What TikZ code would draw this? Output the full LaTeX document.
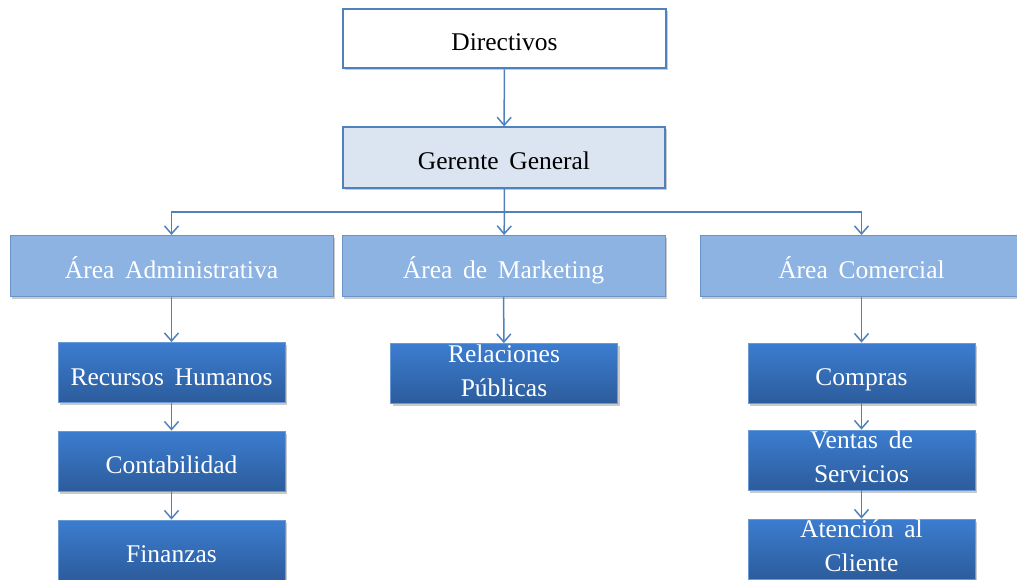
\documentclass[tikz,border=0pt]{standalone}
\usepackage{fontspec}
\setmainfont{Liberation Serif}
\usetikzlibrary{arrows.meta,shadows}
\definecolor{edgeblue}{HTML}{4F81BD}
\definecolor{paleblue}{HTML}{DBE5F1}
\definecolor{midblue}{HTML}{8DB3E2}
\definecolor{deeptop}{HTML}{3C7DD0}
\definecolor{deepbot}{HTML}{2C5C9C}
\definecolor{deepedge}{HTML}{6A9AD6}
% box lettering: large serif with a roomy word space and a fixed line pitch
\newcommand{\orgboxfont}{\fontsize{25.5}{34}\selectfont\spaceskip=0.42em plus 0.1em\relax\lineskiplimit=-100pt\relax}
% invisible struts that fix the height and depth of the lines in a box
\newcommand{\orgstrut}{\rule[-6pt]{0pt}{37pt}}
\newcommand{\orgtopstrut}{\rule[-6pt]{0pt}{26pt}}
\newcommand{\orgfirst}{\orgstrut}
\tikzset{
  first strut/.store in=\orgfirst,
  boxbase/.style={rectangle, inner sep=0pt, align=center,
    font=\orgboxfont, first strut=\orgstrut,
    execute at begin node={\orgfirst}, execute at end node={\orgstrut},
    drop shadow={shadow xshift=2pt, shadow yshift=-2.5pt, opacity=0.35, fill=black!60}},
  twoline/.style={first strut=\orgtopstrut},
  topbox/.style={boxbase, draw=edgeblue, line width=2.6pt, fill=white,
    minimum width=323pt, minimum height=59pt, drop shadow={opacity=0}},
  gerbox/.style={boxbase, draw=edgeblue, line width=1.3pt, fill=paleblue,
    minimum width=322pt, minimum height=61pt},
  areabox/.style={boxbase, draw=edgeblue!85, line width=1pt, fill=midblue,
    text=white, minimum width=323pt, minimum height=61pt},
  subbox/.style={boxbase, draw=deepedge, line width=0.8pt,
    top color=deeptop, bottom color=deepbot, text=white,
    minimum width=227pt, minimum height=60pt},
  link/.style={draw=edgeblue, line width=1.5pt},
  conn/.style={link, -{Straight Barb[length=8pt,width=14pt,line width=1.5pt]}}
}
\begin{document}
\begin{tikzpicture}[x=1pt,y=-1pt]
\useasboundingbox (0,0) rectangle (1017,580);

% top of the hierarchy
\node[topbox] (dir) at (504.5,38.5) {Directivos};
\node[gerbox] (ger) at (504,157.5) {Gerente General};

% areas
\node[areabox] (adm) at (171.5,266) {Área Administrativa};
\node[areabox] (mkt) at (503.5,266) {Área de Marketing};
\node[areabox] (com) at (861.5,266) {Área Comercial};

% departments, administrative area
\node[subbox] (rh)  at (171.5,372.5) {Recursos Humanos};
\node[subbox] (cont) at (171.5,461) {Contabilidad};
\node[subbox] (fin) at (171.5,550) {Finanzas};

% departments, marketing area
\node[subbox, twoline] (rp) at (504,373.5) {Relaciones\\Públicas};

% departments, commercial area
\node[subbox] (comp) at (861.5,373) {Compras};
\node[subbox, twoline] (vent) at (861.5,460) {Ventas de\\Servicios};
\node[subbox, twoline] (aten) at (861.5,549) {Atención al\\Cliente};

% connectors
\coordinate (bus) at (504.5,212);
\draw[conn] (dir) -- (ger);
\draw[link] (ger) -- (bus);
\draw[conn] (bus) -| (adm.north);
\draw[conn] (bus) -- (mkt);
\draw[conn] (bus) -| (com.north);

\draw[conn] (adm) -- (rh);
\draw[conn] (rh) -- (cont);
\draw[conn] (cont) -- (fin);

\draw[conn] (mkt) -- (rp);

\draw[conn] (com) -- (comp);
\draw[conn] (comp) -- (vent);
\draw[conn] (vent) -- (aten);
\end{tikzpicture}
\end{document}
